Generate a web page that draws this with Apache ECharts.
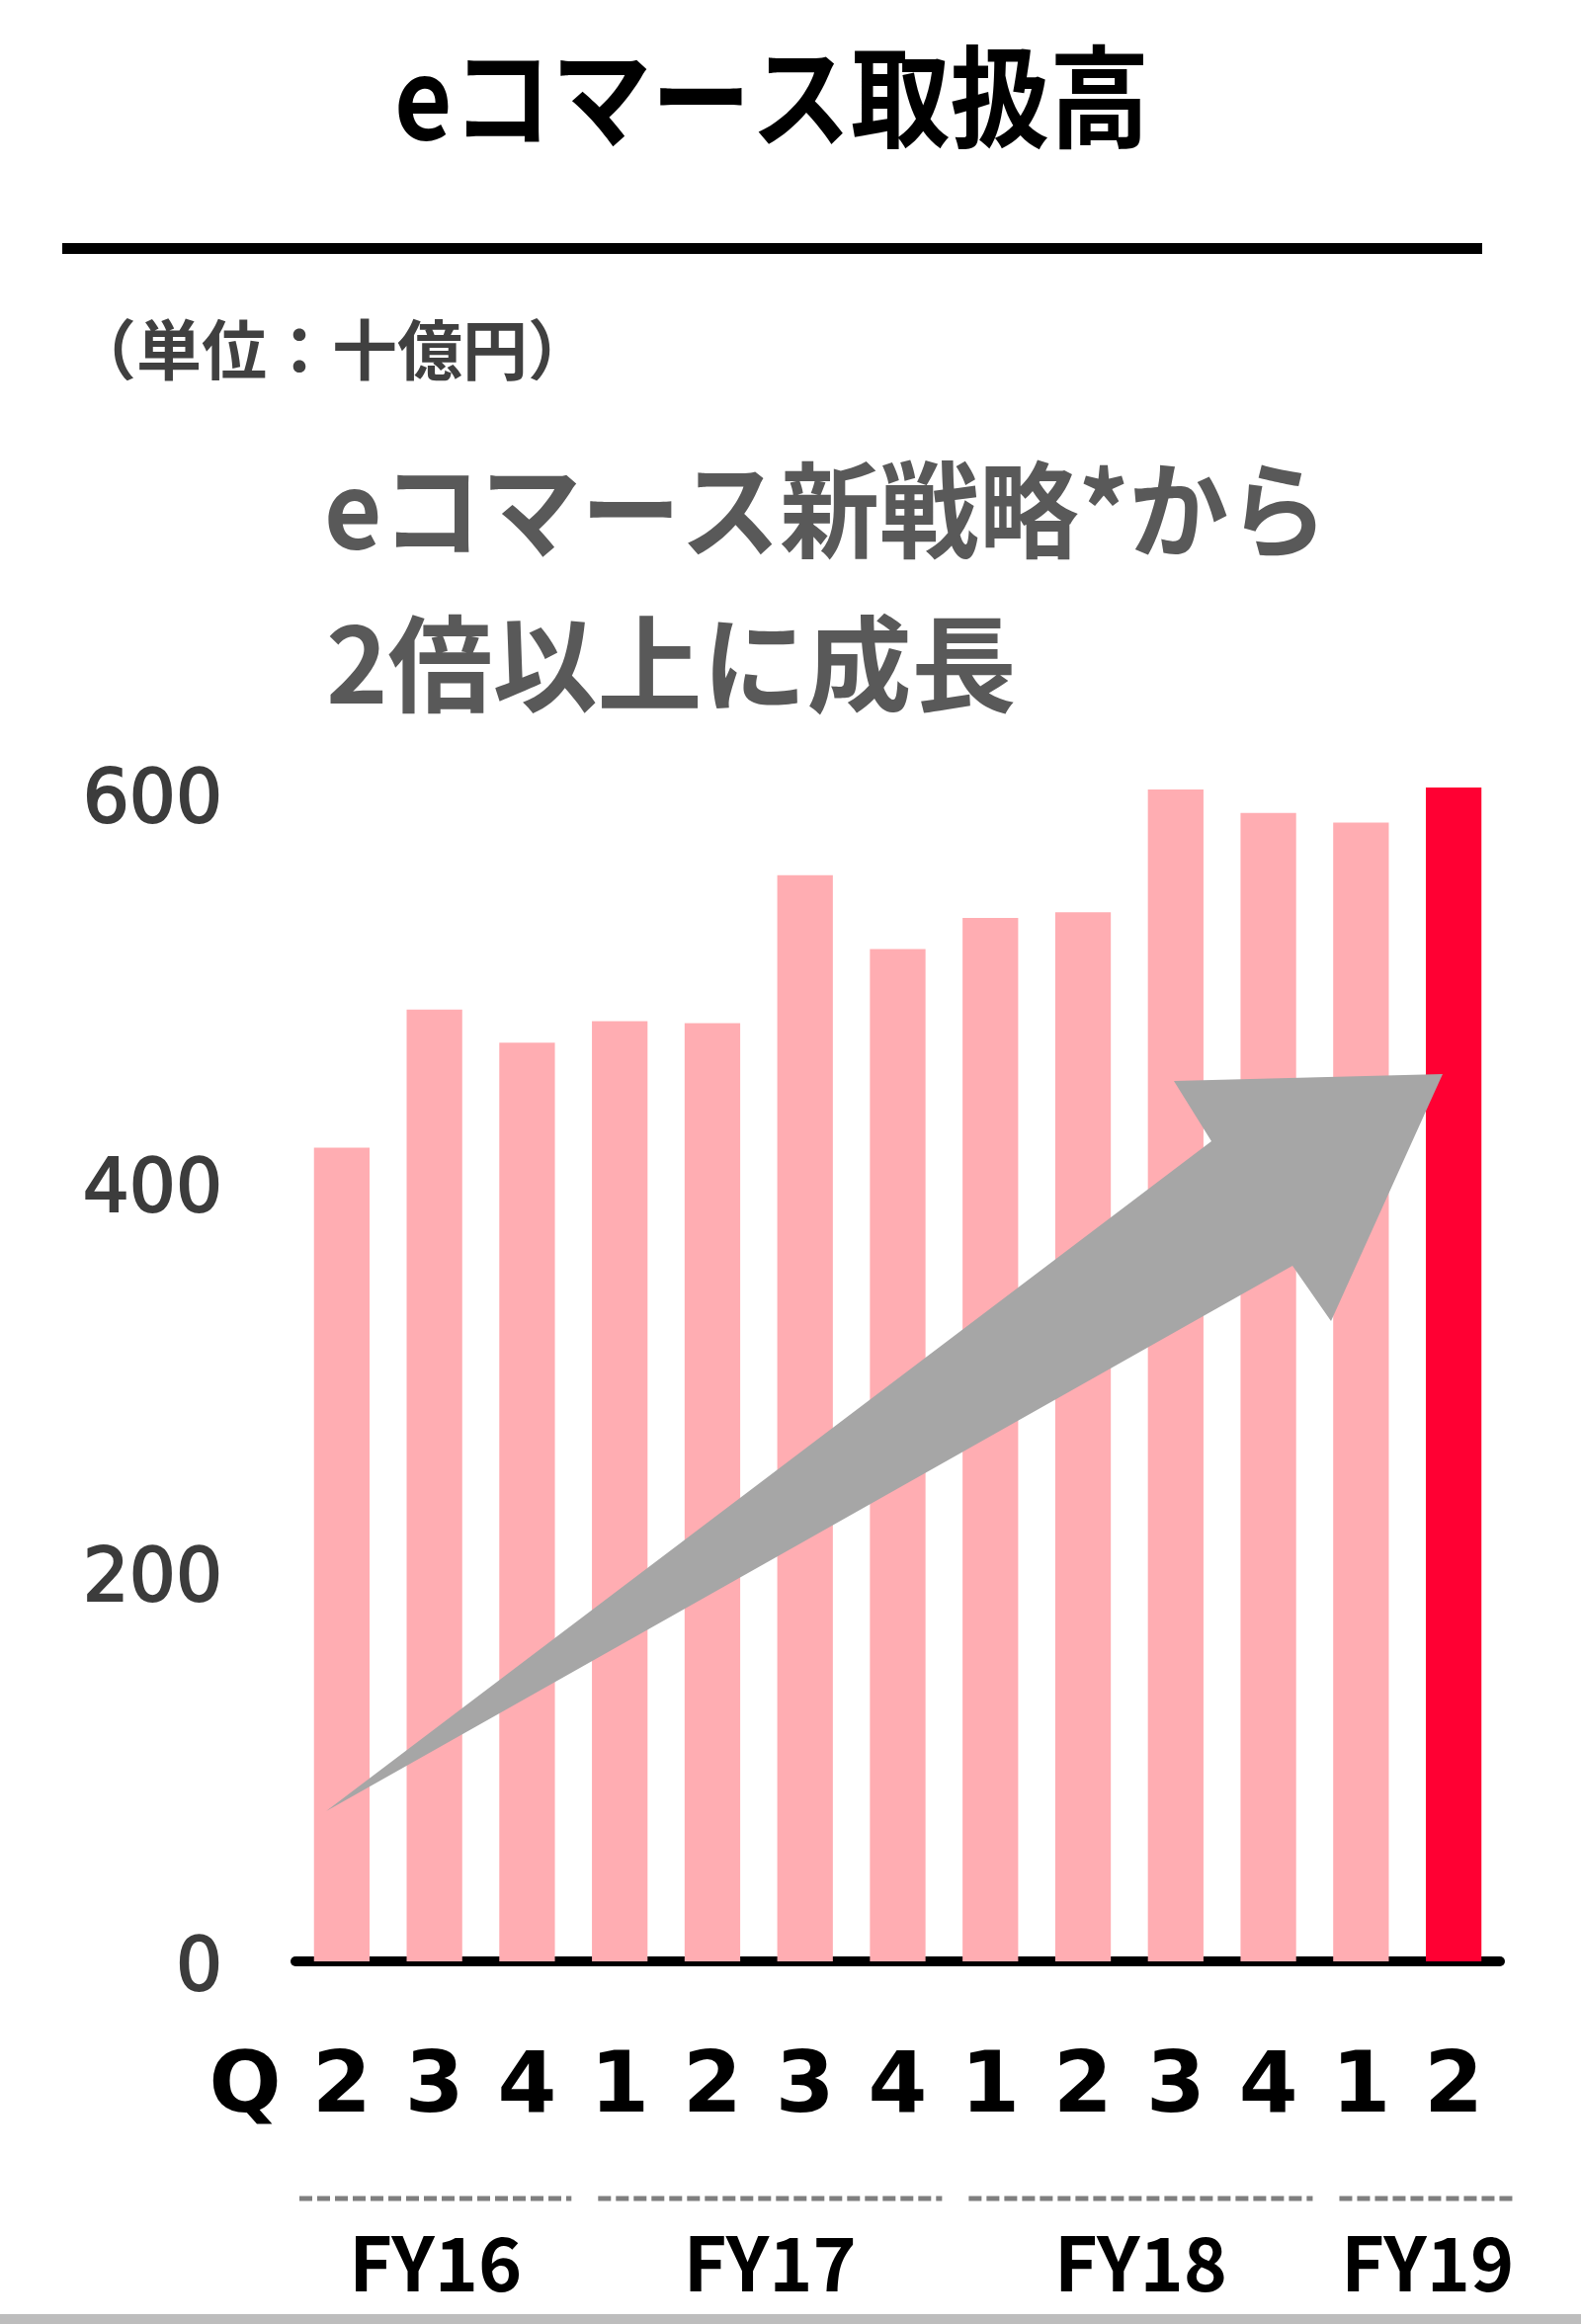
<!DOCTYPE html>
<html>
<head>
	<meta charset="utf-8" />
	<title>eコマース取扱高</title>
	<script src="https://cdn.jsdelivr.net/npm/echarts@6/dist/echarts.min.js"></script>
	<style>
		body { margin: 0; background: #fff; }
		#main { width: 1600px; height: 2352px; }
	</style>
</head>
<body>
<div id="main"></div>
<script type="text/javascript">
	// 四半期ラベルと取扱高（十億円）
	var quarters = ['2', '3', '4', '1', '2', '3', '4', '1', '2', '3', '4', '1', '2'];
	var gmv = [418, 489, 472, 483, 482, 558, 520, 536, 539, 602, 590, 585, 603];
	var highlightIndex = 12;
	var yTicks = [0, 200, 400, 600];
	// 年度グループ（開始・終了のカテゴリ番号）
	var fyNames = ['FY16', 'FY17', 'FY18', 'FY19'];
	var fyStart = [0, 3, 7, 11];
	var fyEnd = [2, 6, 10, 12];

	var JP = '"Noto Sans CJK JP", sans-serif';
	var pink = '#FFADB2';
	var red = '#FF0033';

	var myChart = echarts.init(document.getElementById('main'));

	var barData = gmv.map(function (v, i) {
		return { value: v, itemStyle: { color: i === highlightIndex ? red : pink } };
	});

	var option = {
		animation: false,
		backgroundColor: '#ffffff',
		grid: { left: 299, right: 82, top: 704.5, bottom: 367 },
		xAxis: {
			type: 'category',
			data: quarters,
			axisLine: { lineStyle: { color: '#000', width: 10 } },
			axisTick: { show: false },
			axisLabel: {
				margin: 130,
				verticalAlign: 'middle',
				color: '#000',
				fontFamily: 'DejaVu Sans',
				fontWeight: 'bold',
				fontSize: 86
			}
		},
		yAxis: {
			type: 'value',
			min: 0,
			max: 650,
			interval: 200,
			splitLine: { show: false },
			axisLine: { show: false },
			axisTick: { show: false },
			axisLabel: {
				showMaxLabel: false,
				margin: 74,
				color: '#3c3c3c',
				textBorderColor: '#3c3c3c',
				textBorderWidth: 2,
				fontFamily: 'DejaVu Sans',
				fontSize: 74,
				formatter: function (v) { return yTicks.indexOf(v) >= 0 ? '{v|' + v + '}' : ''; },
				rich: {
					v: {
						padding: [20, 0, 0, 0],
						color: '#3c3c3c',
						textBorderColor: '#3c3c3c',
						textBorderWidth: 2,
						fontFamily: 'DejaVu Sans',
						fontSize: 74
					}
				}
			}
		},
		series: [{
			type: 'bar',
			data: barData,
			barWidth: '60%',
			z: 2
		}]
	};
	myChart.setOption(option);

	// 年度の破線と見出しは軸の位置から計算
	var step = myChart.convertToPixel({ xAxisIndex: 0 }, 1) - myChart.convertToPixel({ xAxisIndex: 0 }, 0);
	var yDash = 2225;
	var graphics = [];

	fyNames.forEach(function (name, i) {
		var left = myChart.convertToPixel({ xAxisIndex: 0 }, fyStart[i]) - step / 2;
		var right = myChart.convertToPixel({ xAxisIndex: 0 }, fyEnd[i]) + step / 2;
		var x1 = left + (i === 0 ? 4 : 25);
		var x2 = right + (i === fyNames.length - 1 ? 16 : -2);
		graphics.push({
			type: 'line',
			shape: { x1: x1, y1: yDash, x2: x2, y2: yDash },
			style: { stroke: '#7f7f7f', lineWidth: 5, lineDash: [13, 5] }
		});
		graphics.push({
			type: 'text',
			x: (x1 + x2) / 2,
			y: 2290,
			style: {
				text: name, fill: '#000', font: 'bold 75px ' + JP,
				textAlign: 'center', textVerticalAlign: 'middle'
			}
		});
	});

	graphics.push(
		// タイトル
		{
			type: 'text', x: 781, y: 98, scaleX: 0.9, originX: 0,
			style: {
				text: 'eコマース取扱高', fill: '#000', font: 'bold 112px ' + JP,
				textAlign: 'center', textVerticalAlign: 'middle'
			}
		},
		{ type: 'rect', shape: { x: 63, y: 246, width: 1437, height: 11 }, style: { fill: '#000' } },
		{
			type: 'text', x: 72, y: 354,
			style: {
				text: '（単位：十億円）', fill: '#404040', font: 'bold 66px ' + JP,
				textAlign: 'left', textVerticalAlign: 'middle'
			}
		},
		{
			type: 'text', x: 328, y: 516, scaleX: 0.95, originX: 0,
			style: {
				text: 'eコマース新戦略*から', fill: '#595959', font: 'bold 106px ' + JP,
				textAlign: 'left', textVerticalAlign: 'middle'
			}
		},
		{
			type: 'text', x: 330, y: 672,
			style: {
				text: '2倍以上に成長', fill: '#595959', font: 'bold 106px ' + JP,
				textAlign: 'left', textVerticalAlign: 'middle'
			}
		},
		// Q ラベル
		{
			type: 'text', x: 248, y: 2115,
			style: {
				text: 'Q', fill: '#000', font: 'bold 86px "DejaVu Sans"',
				textAlign: 'center', textVerticalAlign: 'middle'
			}
		},
		// 成長を示す矢印
		{
			type: 'polygon', z: 10,
			shape: { points: [[330, 1833], [1226, 1155], [1188, 1094], [1460, 1087], [1347, 1337], [1308, 1281]] },
			style: { fill: '#A6A6A6' }
		},
		// 下端の枠線
		{ type: 'rect', shape: { x: 0, y: 2342, width: 1600, height: 10 }, style: { fill: '#bdbdbd' } }
	);

	myChart.setOption({ graphic: graphics });
</script>
</body>
</html>
